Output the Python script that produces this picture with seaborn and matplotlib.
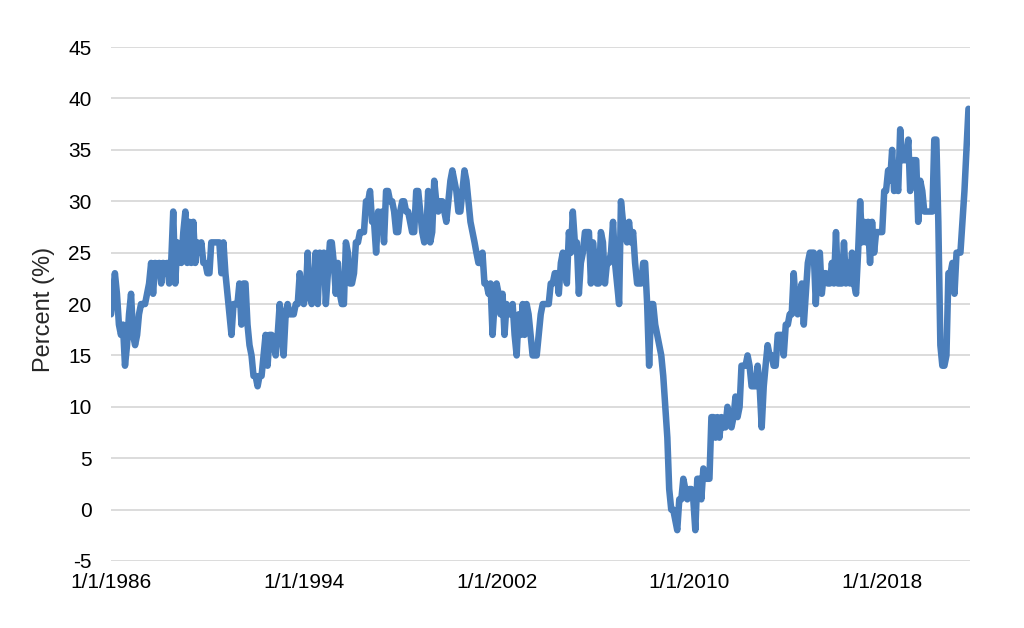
import pandas as pd
import numpy as np
import matplotlib
matplotlib.use("Agg")
import matplotlib.pyplot as plt
import seaborn as sns

# monthly values, first month is Jan 1986
start_month = "1986-01-01"
percent = [
    19, 21, 23, 21, 18, 17, 18, 14, 16, 19, 21, 17,  # 1986
    16, 17, 19, 20, 20, 20, 21, 22, 24, 21, 24, 23,  # 1987
    24, 22, 24, 23, 24, 22, 24, 29, 22, 26, 25, 24,  # 1988
    27, 29, 24, 28, 24, 28, 24, 26, 25, 26, 24, 24,  # 1989
    23, 23, 26, 26, 26, 26, 26, 23, 26, 23, 21, 19,  # 1990
    17, 20, 20, 20, 22, 18, 22, 22, 18, 16, 15, 13,  # 1991
    13, 12, 13, 13, 15, 17, 14, 17, 17, 16, 15, 17,  # 1992
    20, 18, 15, 19, 20, 19, 19, 19, 20, 20, 23, 21,  # 1993
    20, 21, 25, 21, 20, 21, 25, 20, 25, 23, 25, 20,  # 1994
    23, 26, 26, 24, 21, 24, 21, 20, 20, 26, 25, 22,  # 1995
    22, 23, 26, 26, 27, 27, 27, 30, 30, 31, 28, 28,  # 1996
    25, 29, 28, 29, 26, 31, 31, 30, 30, 29, 27, 27,  # 1997
    29, 30, 30, 29, 29, 28, 27, 27, 31, 31, 29, 27,  # 1998
    26, 27, 31, 26, 27, 32, 30, 29, 30, 30, 29, 28,  # 1999
    30, 32, 33, 32, 31, 29, 29, 31, 33, 32, 30, 28,  # 2000
    27, 26, 25, 24, 24, 25, 22, 22, 21, 22, 17, 20,  # 2001
    22, 21, 19, 21, 17, 20, 19, 19, 20, 17, 15, 19,  # 2002
    17, 20, 17, 20, 19, 17, 15, 15, 15, 17, 19, 20,  # 2003
    20, 20, 20, 22, 22, 23, 23, 21, 24, 25, 24, 22,  # 2004
    27, 25, 29, 26, 26, 21, 24, 25, 27, 27, 27, 22,  # 2005
    26, 24, 22, 22, 27, 26, 22, 24, 24, 25, 28, 24,  # 2006
    22, 20, 30, 28, 27, 26, 28, 26, 27, 24, 22, 22,  # 2007
    22, 24, 24, 20, 14, 20, 20, 18, 17, 16, 15, 13,  # 2008
    10, 7, 2, 0, 0, -1, -2, 1, 1, 3, 2, 1,  # 2009
    2, 2, 1, -2, 3, 3, 1, 4, 3, 3, 3, 9,  # 2010
    9, 7, 9, 7, 9, 8, 8, 10, 9, 8, 9, 11,  # 2011
    9, 10, 14, 14, 14, 15, 14, 12, 12, 12, 14, 12,  # 2012
    8, 12, 14, 16, 15, 15, 14, 14, 17, 17, 17, 15,  # 2013
    18, 18, 19, 19, 23, 20, 19, 21, 22, 18, 21, 24,  # 2014
    25, 25, 25, 20, 24, 25, 21, 23, 23, 22, 22, 24,  # 2015
    22, 27, 22, 22, 22, 26, 22, 24, 22, 25, 22, 21,  # 2016
    25, 30, 26, 28, 26, 28, 24, 28, 25, 27, 27, 27,  # 2017
    27, 31, 31, 33, 32, 35, 31, 32, 31, 37, 34, 34,  # 2018
    34, 36, 31, 34, 34, 34, 28, 32, 31, 29, 29, 29,  # 2019
    29, 29, 36, 36, 28, 16, 14, 14, 15, 23, 23, 24,  # 2020
    21, 25, 25, 25, 28, 31, 35, 39,  # 2021
]

tick_years = [1986, 1994, 2002, 2010, 2018]
tick_labels = ["1/1/1986", "1/1/1994", "1/1/2002", "1/1/2010", "1/1/2018"]
y_ticks = [-5, 0, 5, 10, 15, 20, 25, 30, 35, 40, 45]

df = pd.DataFrame({
    "date": pd.date_range(start_month, periods=len(percent), freq="MS"),
    "percent": percent,
})

sns.set_style("white")
plt.rcParams["font.family"] = ["Liberation Sans", "DejaVu Sans"]
plt.rcParams["axes.unicode_minus"] = False

fig, ax = plt.subplots(figsize=(10.24, 6.28), dpi=100)
fig.subplots_adjust(left=0.1084, right=0.947, top=0.925, bottom=0.1067)

sns.lineplot(data=df, x="date", y="percent", ax=ax, color="#4a7ebb",
             linewidth=4.7, solid_joinstyle="round", solid_capstyle="round")

ax.set_ylim(-5, 45)
ax.set_yticks(y_ticks)
ax.set_xlim(pd.Timestamp("1986-01-01"), pd.Timestamp("2021-08-20"))
ax.set_xticks([pd.Timestamp(f"{y}-01-01") for y in tick_years])
ax.set_xticklabels(tick_labels)

ax.grid(axis="y", color="#d9d9d9", linewidth=1.3)
ax.grid(axis="x", visible=False)
ax.set_axisbelow(True)
sns.despine(ax=ax, left=True, bottom=True)

ax.tick_params(axis="both", length=0, labelsize=15, colors="black")
ax.tick_params(axis="y", pad=14)
ax.tick_params(axis="x", pad=9)
ax.set_xlabel("")
ax.set_ylabel("Percent (%)", fontsize=17)
ax.yaxis.set_label_coords(-0.065, 0.49)

fig.savefig("out.png", dpi=100)
